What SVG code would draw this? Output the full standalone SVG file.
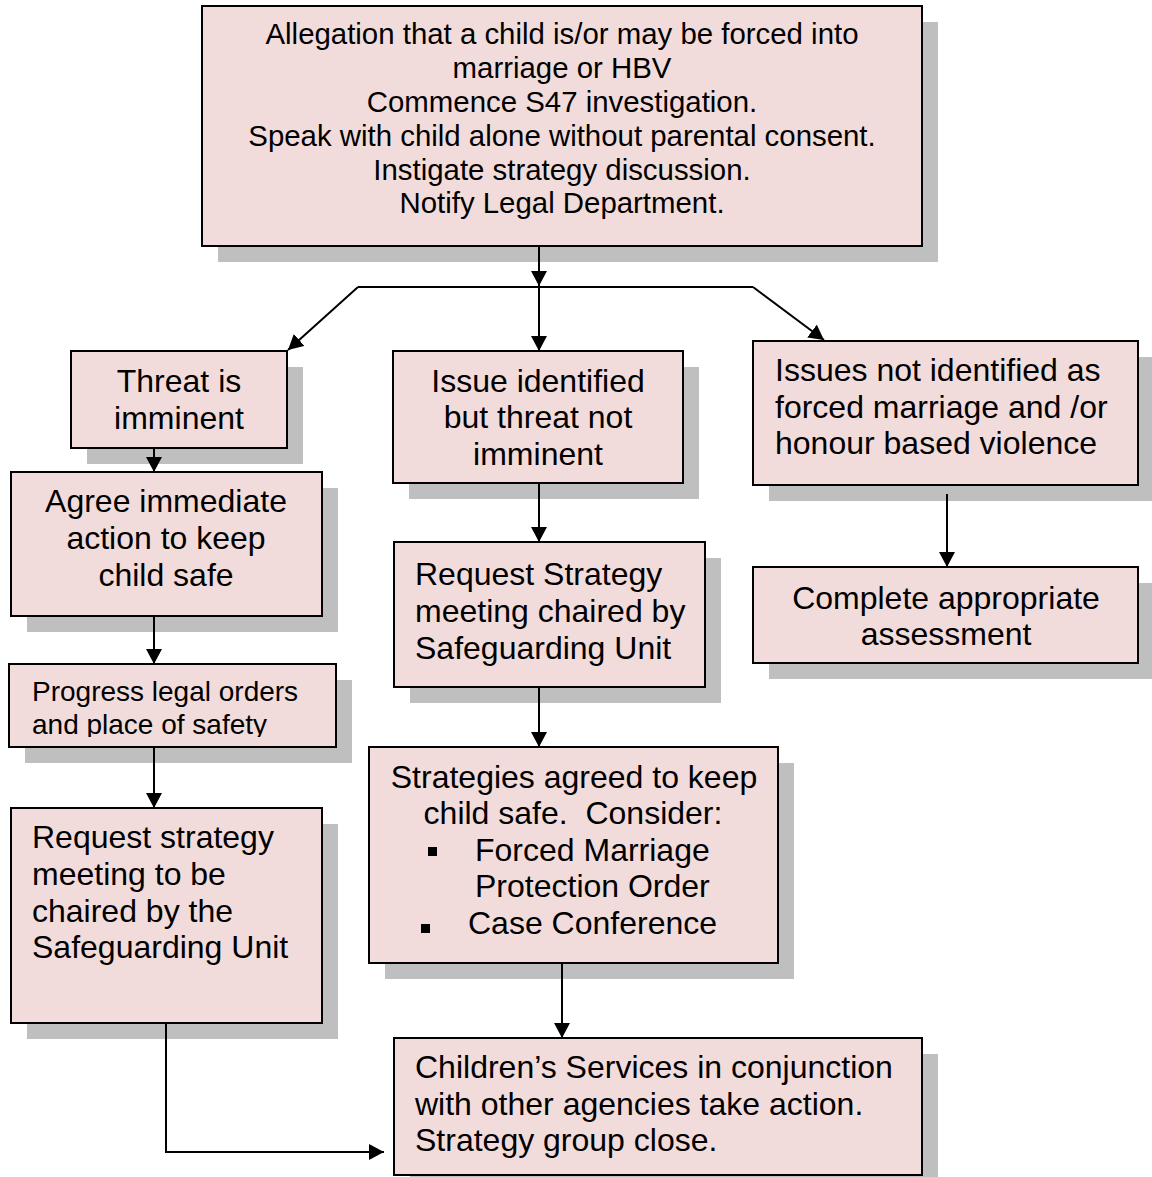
<svg xmlns="http://www.w3.org/2000/svg" width="1152" height="1177" viewBox="0 0 1152 1177">
<style>
.sh{fill:#bfbfbf}
.bx{fill:#f2dcdb;stroke:#000;stroke-width:2}
.t{font-family:"Liberation Sans",Arial,sans-serif;font-size:32px;fill:#000}
.c{text-anchor:middle}
.top{font-size:29.4px}
.sm{font-size:28px}
.ln{fill:none;stroke:#000;stroke-width:2}
</style>
<defs>
<marker id="ah" markerUnits="userSpaceOnUse" markerWidth="15" markerHeight="16" refX="15" refY="8" orient="auto">
<path d="M0,0 L15,8 L0,16 Z" fill="#000"/>
</marker>
<clipPath id="clipProg"><rect x="9" y="664" width="327" height="73"/></clipPath>
</defs>
<g id="n-top">
<rect class="sh" x="218" y="22" width="720" height="240"/>
<rect class="bx" x="202" y="6" width="720" height="240"/>
<text class="t c top" x="562" y="44">Allegation that a child is/or may be forced into</text>
<text class="t c top" x="562" y="78">marriage or HBV</text>
<text class="t c top" x="562" y="112">Commence S47 investigation.</text>
<text class="t c top" x="562" y="146">Speak with child alone without parental consent.</text>
<text class="t c top" x="562" y="180">Instigate strategy discussion.</text>
<text class="t c top" x="562" y="213">Notify Legal Department.</text>
</g>
<g id="n-threat">
<rect class="sh" x="87" y="367" width="216" height="97"/>
<rect class="bx" x="71" y="351" width="216" height="97"/>
<text class="t c" x="179" y="392">Threat is</text>
<text class="t c" x="179" y="429">imminent</text>
</g>
<g id="n-agree">
<rect class="sh" x="27" y="488" width="311" height="144"/>
<rect class="bx" x="11" y="472" width="311" height="144"/>
<text class="t c" x="166" y="512">Agree immediate</text>
<text class="t c" x="166" y="549">action to keep</text>
<text class="t c" x="166" y="586">child safe</text>
</g>
<g id="n-progress">
<rect class="sh" x="25" y="680" width="327" height="83"/>
<rect class="bx" x="9" y="664" width="327" height="83"/>
<g clip-path="url(#clipProg)">
<text class="t sm" x="32" y="701">Progress legal orders</text>
<text class="t sm" x="32" y="734">and place of safety</text>
</g>
</g>
<g id="n-request-left">
<rect class="sh" x="27" y="824" width="311" height="215"/>
<rect class="bx" x="11" y="808" width="311" height="215"/>
<text class="t" x="32" y="848">Request strategy</text>
<text class="t" x="32" y="885">meeting to be</text>
<text class="t" x="32" y="922">chaired by the</text>
<text class="t" x="32" y="958">Safeguarding Unit</text>
</g>
<g id="n-issue">
<rect class="sh" x="409" y="367" width="290" height="132"/>
<rect class="bx" x="393" y="351" width="290" height="132"/>
<text class="t c" x="538" y="392">Issue identified</text>
<text class="t c" x="538" y="428">but threat not</text>
<text class="t c" x="538" y="465">imminent</text>
</g>
<g id="n-request-mid">
<rect class="sh" x="410" y="558" width="311" height="145"/>
<rect class="bx" x="394" y="542" width="311" height="145"/>
<text class="t" x="415" y="585">Request Strategy</text>
<text class="t" x="415" y="622">meeting chaired by</text>
<text class="t" x="415" y="659">Safeguarding Unit</text>
</g>
<g id="n-strategies">
<rect class="sh" x="385" y="763" width="409" height="216"/>
<rect class="bx" x="369" y="747" width="409" height="216"/>
<text class="t c" x="574" y="788">Strategies agreed to keep</text>
<text class="t c" x="573" y="824" xml:space="preserve">child safe.  Consider:</text>
<rect x="428" y="847" width="9" height="9" fill="#000"/>
<text class="t" x="475" y="861">Forced Marriage</text>
<text class="t" x="475" y="897">Protection Order</text>
<rect x="421" y="924" width="9" height="9" fill="#000"/>
<text class="t" x="468" y="934">Case Conference</text>
</g>
<g id="n-children">
<rect class="sh" x="410" y="1054" width="528" height="137"/>
<rect class="bx" x="394" y="1038" width="528" height="137"/>
<text class="t" x="415" y="1078">Children’s Services in conjunction</text>
<text class="t" x="415" y="1115">with other agencies take action.</text>
<text class="t" x="415" y="1151">Strategy group close.</text>
</g>
<g id="n-notidentified">
<rect class="sh" x="769" y="357" width="385" height="144"/>
<rect class="bx" x="753" y="341" width="385" height="144"/>
<text class="t" x="775" y="381">Issues not identified as</text>
<text class="t" x="775" y="418">forced marriage and /or</text>
<text class="t" x="775" y="454">honour based violence</text>
</g>
<g id="n-complete">
<rect class="sh" x="769" y="583" width="385" height="96"/>
<rect class="bx" x="753" y="567" width="385" height="96"/>
<text class="t c" x="946" y="609">Complete appropriate</text>
<text class="t c" x="946" y="645">assessment</text>
</g>
<g id="connectors">
<line class="ln" x1="539" y1="247" x2="539" y2="286" marker-end="url(#ah)"/>
<polyline class="ln" points="358,287 753,287"/>
<line class="ln" x1="358" y1="287" x2="288" y2="350" marker-end="url(#ah)"/>
<line class="ln" x1="539" y1="287" x2="539" y2="351" marker-end="url(#ah)"/>
<line class="ln" x1="753" y1="287" x2="824" y2="340" marker-end="url(#ah)"/>
<line class="ln" x1="154" y1="448" x2="154" y2="472" marker-end="url(#ah)"/>
<line class="ln" x1="154" y1="616" x2="154" y2="664" marker-end="url(#ah)"/>
<line class="ln" x1="154" y1="747" x2="154" y2="808" marker-end="url(#ah)"/>
<polyline class="ln" points="166,1023 166,1152 384,1152" marker-end="url(#ah)"/>
<line class="ln" x1="539" y1="483" x2="539" y2="542" marker-end="url(#ah)"/>
<line class="ln" x1="539" y1="687" x2="539" y2="747" marker-end="url(#ah)"/>
<line class="ln" x1="562" y1="963" x2="562" y2="1038" marker-end="url(#ah)"/>
<line class="ln" x1="947" y1="494" x2="947" y2="567" marker-end="url(#ah)"/>
</g>
</svg>
